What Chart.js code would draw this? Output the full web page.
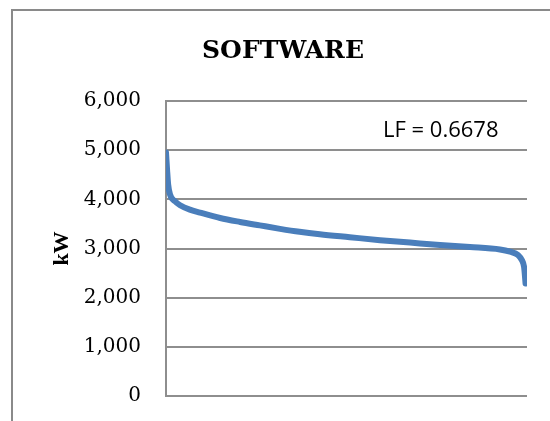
<!DOCTYPE html>
<html lang="en">
<head>
<meta charset="UTF-8">
<title>SOFTWARE</title>
<script src="https://cdn.jsdelivr.net/npm/chart.js"></script>
<style>
    html, body { margin: 0; padding: 0; background: #fff; overflow: hidden; }
    .frame {
        position: absolute;
        left: 11px;
        top: 9px;
        width: 620px;
        height: 500px;
        border: 2px solid #8a8a8a;
    }
    .wrap { position: absolute; left: 0; top: 0; width: 550px; height: 421px; }
</style>
</head>
<body>
<div class="frame"></div>
<div class="wrap"><canvas id="chart" width="550" height="421"></canvas></div>
<script>
// Load duration curve (x = % of time, y = kW)
const timePct = [0, 0.3, 0.6, 1.1, 2.5, 3.9, 6.6, 9.4, 15, 20.5, 26, 31.6, 37, 42.6, 50.9, 59.3, 67.6, 75.9, 84.2, 92.5, 95.3, 97.5, 98.6, 99.2, 99.6];
const loadKw  = [4950, 4600, 4300, 4100, 3960, 3880, 3790, 3730, 3620, 3540, 3470, 3400, 3340, 3290, 3230, 3170, 3120, 3070, 3030, 2980, 2935, 2870, 2760, 2620, 2290];
const yTicks = [0, 1000, 2000, 3000, 4000, 5000, 6000];
const chartTitle = 'SOFTWARE';
const yTitle = 'kW';
const lfNote = 'LF = 0.6678';

const gridColor = '#8e8e8e';

// texte LF dans la zone du graphe
const lfPlugin = {
    id: 'lfNote',
    afterDraw(chart) {
        const { ctx, chartArea } = chart;
        ctx.save();
        ctx.font = '22px "Open Sans"';
        ctx.fillStyle = '#000';
        ctx.textAlign = 'left';
        ctx.textBaseline = 'middle';
        ctx.fillText(lfNote, chartArea.left + 217, chartArea.top + 30);
        ctx.restore();
    }
};

new Chart(document.getElementById('chart'), {
    type: 'line',
    data: {
        datasets: [{
            data: timePct.map((x, i) => ({ x: x, y: loadKw[i] })),
            borderColor: '#4a7ebb',
            borderWidth: 6,
            borderCapStyle: 'round',
            borderJoinStyle: 'round',
            pointRadius: 0,
            fill: false,
            cubicInterpolationMode: 'monotone'
        }]
    },
    options: {
        responsive: false,
        animation: false,
        layout: { padding: { left: 39, right: 23, top: 0, bottom: 25 } },
        plugins: {
            legend: { display: false },
            tooltip: { enabled: false },
            title: {
                display: true,
                text: chartTitle,
                color: '#000',
                font: { family: '"DejaVu Serif"', size: 25, weight: 'bold', lineHeight: 1.2 },
                padding: { top: 36, bottom: 35 }
            }
        },
        scales: {
            x: {
                type: 'linear',
                min: 0,
                max: 100,
                display: false
            },
            y: {
                min: 0,
                max: 6000,
                afterBuildTicks: (s) => { s.ticks = yTicks.map(v => ({ value: v })); },
                // largeur fixe + pas de marge auto en bas (la padding des ticks l'agrandit sinon)
                afterFit: (s) => { s.width = 127; s.paddingBottom = 0; },
                grid: { color: gridColor, lineWidth: 2, drawTicks: false },
                border: { display: true, color: gridColor, width: 2 },
                ticks: {
                    color: '#000',
                    padding: 25,
                    font: { family: '"DejaVu Serif"', size: 20 },
                    callback: (v) => v.toLocaleString('en-US')
                },
                title: {
                    display: true,
                    text: yTitle,
                    color: '#000',
                    font: { family: '"Liberation Serif"', size: 22, weight: 'bold', lineHeight: 1.2 },
                    padding: { top: 10, bottom: 0 }
                }
            }
        }
    },
    plugins: [lfPlugin]
});
</script>
</body>
</html>
